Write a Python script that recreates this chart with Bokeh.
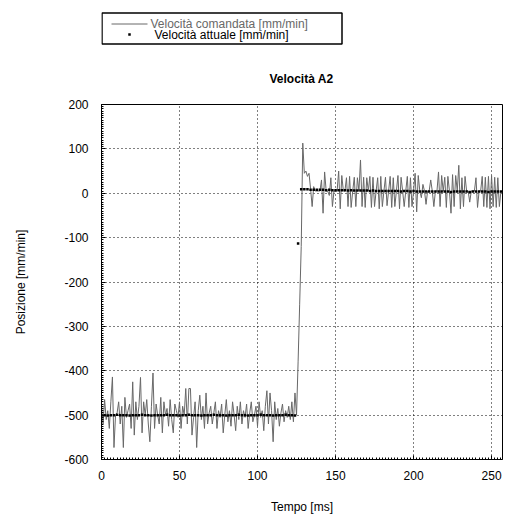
from bokeh.plotting import figure
from bokeh.layouts import column
from bokeh.models import Range1d, SingleIntervalTicker, CustomJSTickFormatter
from bokeh.core.properties import value
from bokeh.embed import file_html
from bokeh.resources import INLINE

FONT = "Liberation Sans"
GRAY = "#686868"

title_text = "Velocità A2"
x_label = "Tempo [ms]"
y_label = "Posizione [mm/min]"
series_names = ["Velocità comandata [mm/min]", "Velocità attuale [mm/min]"]

# commanded velocity, sampled every 1 ms (0..256)
time_cmd = list(range(0, 257))
commanded = [
    -480, -520, -465, -510, -490, -530, -470, -414, -573, -500,
    -495, -470, -520, -480, -573, -460, -505, -490, -475, -530,
    -425, -545, -470, -510, -480, -415, -540, -470, -500, -465,
    -520, -560, -480, -405, -530, -475, -500, -520, -460, -540,
    -470, -500, -485, -525, -465, -510, -540, -475, -490, -505,
    -470, -530, -480, -500, -440, -520, -440, -440, -545, -505,
    -470, -573, -490, -455, -510, -480, -530, -450, -520, -495,
    -480, -520, -495, -470, -530, -490, -505, -475, -540, -500,
    -465, -515, -490, -525, -470, -500, -535, -480, -510, -470,
    -520, -490, -505, -475, -530, -495, -470, -515, -500, -480,
    -525, -470, -505, -490, -535, -480, -445, -520, -450, -490,
    -560, -470, -510, -485, -525, -495, -475, -515, -490, -505,
    -480, -510, -470, -515, -450,
    -500, -380, -250, -120,
    113,
    45, 50, 38, 45, 10, -30, 15, 5, 5, 5,
    5, 30, -45, 48, 5, 5, -5, 35, -30, 5,
    5, 5, 50, -35, 40, 5, 5, 35, -30, 38,
    -32, 5, 36, -30, 35, 5, 75, -30, 36, -32,
    35, 5, 38, -32, 36, -30, 5, 35, -35, 38,
    -30, 5, 36, -28, 5, 38, -32, 35, -30, 5,
    40, -35, 36, 5, -30, 5, 38, -32, 35, -30,
    5, 45, -42, 40, 5, -10, 20, 5, -25, 5,
    5, 30, 5, -30, 5, 5, 48, -30, 40, 5,
    36, -32, 38, 5, -45, 42, -30, 40, 5, 63,
    -35, 35, -30, 38, 5, 5, -20, 5, 5, 5,
    35, -32, 5, 5, 38, -30, 36, -32, 38, -35,
    40, -30, 36, -32, 35, -30, 5,
]

# actual velocity, sampled every 2 ms (0..256)
time_act = list(range(0, 257, 2))
actual = [
    -500, -500, -501, -500, -500, -499, -500, -500, -500, -501,
    -500, -500, -500, -499, -500, -500, -501, -500, -500, -500,
    -500, -499, -500, -500, -500, -501, -500, -500, -499, -500,
    -500, -500, -501, -500, -500, -500, -499, -500, -500, -500,
    -501, -500, -500, -500, -499, -500, -500, -501, -500, -500,
    -500, -499, -500, -500, -500, -501, -500, -500, -500, -499,
    -500, -500, -501,
    -113,
    9, 9, 9, 8, 8, 8, 8, 8, 7, 8,
    7, 7, 7, 7, 7, 6, 7, 6, 6, 6,
    6, 6, 5, 6, 5, 5, 5, 5, 5, 5,
    5, 5, 4, 5, 5, 4, 5, 4, 4, 4,
    4, 4, 4, 4, 4, 4, 4, 4, 3, 4,
    4, 4, 4, 4, 3, 4, 4, 4, 4, 4,
    3, 4, 4, 4, 4,
]

x_ticks_interval = 50
y_ticks_interval = 100

# ---------- top area: legend + title (frame aligned with main chart: 101..502 px) ----------
top = figure(width=505, height=95, x_range=Range1d(101, 502), y_range=Range1d(95, 0),
             output_backend="svg", toolbar_location=None,
             min_border=0, min_border_left=101, min_border_right=3)
top.axis.visible = False
top.grid.visible = False
top.outline_line_color = None
top.quad(left=[101.5], right=[341.5], top=[12.5], bottom=[43.5],
         fill_color=None, line_color="black", line_width=1.5)
top.segment(x0=[111], y0=[23.5], x1=[147], y1=[23.5], line_color=GRAY, line_width=1)
top.scatter(x=[129], y=[34], marker="square", size=2.5, color="black", line_color=None)
top.text(x=[150], y=[23.5], text=[series_names[0]], text_font=value(FONT),
         text_font_size="12px", text_baseline="middle", text_color=GRAY)
top.text(x=[154], y=[34], text=[series_names[1]], text_font=value(FONT),
         text_font_size="12px", text_baseline="middle", text_color="black")
top.text(x=[301], y=[78], text=[title_text], text_font=value(FONT),
         text_font_size="12px", text_font_style="bold", text_align="center",
         text_baseline="middle", text_color="black")

# ---------- main chart ----------
p = figure(width=505, height=422, x_range=Range1d(0, 257), y_range=Range1d(-600, 200),
           output_backend="svg", toolbar_location=None,
           min_border_left=101, min_border_right=3, min_border_top=9, min_border_bottom=58)
p.background_fill_color = "white"
p.border_fill_color = "white"
p.outline_line_color = "black"
p.outline_line_alpha = 1.0
p.outline_line_width = 1

p.line(time_cmd, commanded, line_color=GRAY, line_width=1)
p.scatter(time_act, actual, marker="square", size=2.5, color="black", line_color=None)

p.xaxis.ticker = SingleIntervalTicker(interval=x_ticks_interval, num_minor_ticks=25)
p.yaxis.ticker = SingleIntervalTicker(interval=y_ticks_interval, num_minor_ticks=20)
fmt_code = "return String(Math.round(tick));"
p.xaxis.formatter = CustomJSTickFormatter(code=fmt_code)
p.yaxis.formatter = CustomJSTickFormatter(code=fmt_code)

for ax in (p.xaxis[0], p.yaxis[0]):
    ax.axis_line_color = "black"
    ax.major_tick_in = 4
    ax.major_tick_out = 0
    ax.minor_tick_in = 2
    ax.minor_tick_out = 0
    ax.major_tick_line_color = "black"
    ax.minor_tick_line_color = "black"
    ax.major_label_text_font = FONT
    ax.major_label_text_font_size = "12px"
    ax.major_label_text_color = "black"
    ax.axis_label_text_font = FONT
    ax.axis_label_text_font_size = "12px"
    ax.axis_label_text_font_style = "normal"
    ax.axis_label_text_color = "black"

p.xaxis.axis_label = x_label
p.yaxis.axis_label = y_label
p.xaxis.major_label_standoff = 11
p.xaxis.axis_label_standoff = 17
p.yaxis.major_label_standoff = 13
p.yaxis.axis_label_standoff = 33

for g in (p.xgrid[0], p.ygrid[0]):
    g.grid_line_color = "black"
    g.grid_line_dash = "1 3"
    g.grid_line_width = 1

layout = column(top, p, spacing=0)
open("out.html", "w").write(file_html(layout, INLINE))
